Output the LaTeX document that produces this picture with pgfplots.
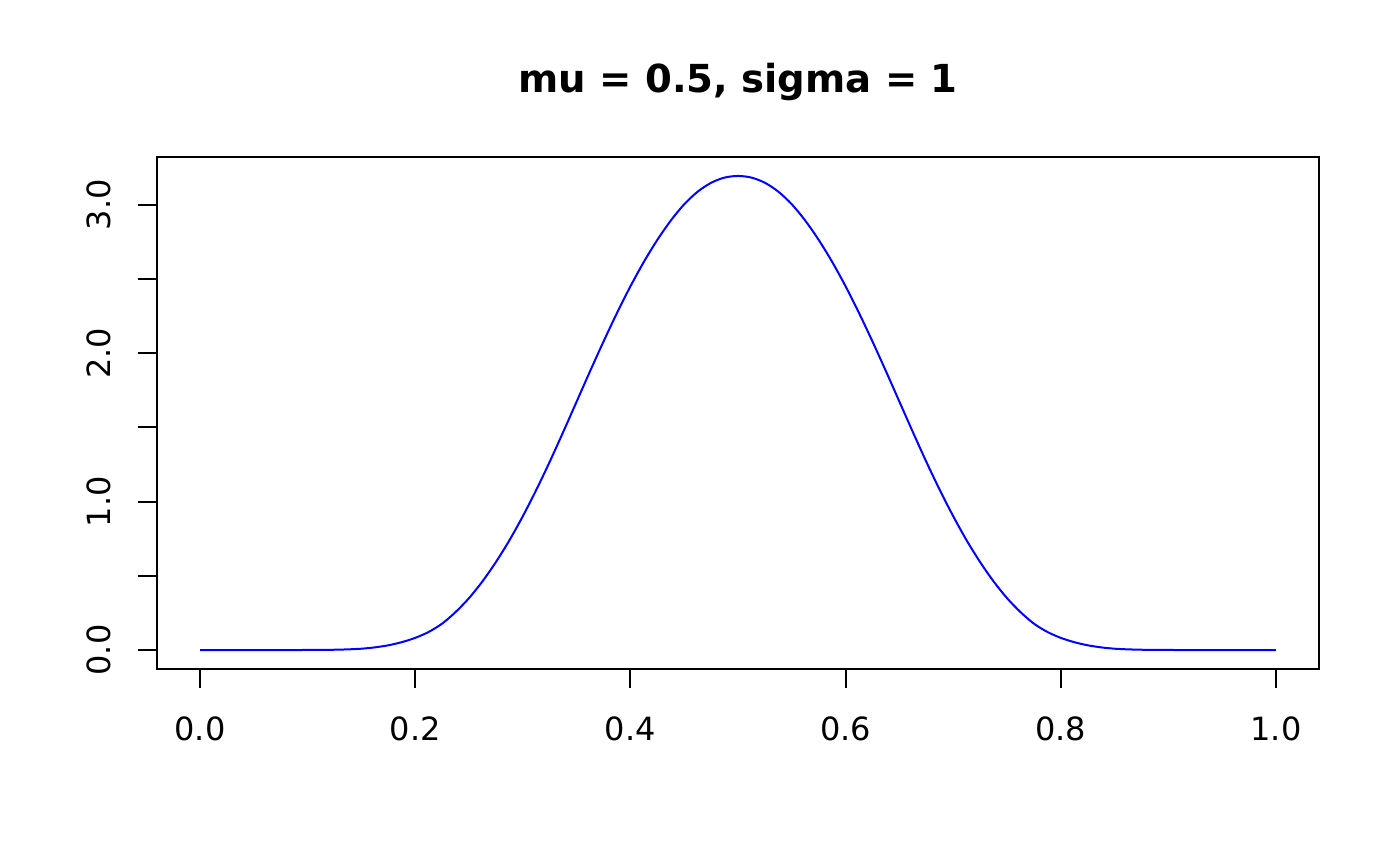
\documentclass[border=0pt]{standalone}
\usepackage{pgfplots}
\pgfplotsset{compat=1.18}
\usepackage{fontspec}
\setmainfont{DejaVu Sans}
\begin{document}
\begin{tikzpicture}
\path[use as bounding box] (0,0) rectangle (700pt,433pt);
\begin{axis}[
  scale only axis,
  at={(78.5pt,98.5pt)}, anchor=south west,
  width=581pt, height=256pt,
  xmin=-0.04, xmax=1.04,
  ymin=-0.1278, ymax=3.3228,
  axis line style={line width=1pt},
  tick style={line width=1pt, black},
  tick align=outside, tick pos=left,
  major tick length=9.75pt,
  xtick={0,0.2,0.4,0.6,0.8,1.0},
  xticklabels={0.0,0.2,0.4,0.6,0.8,1.0},
  ytick={0,0.5,1,1.5,2,2.5,3},
  yticklabels={0.0,,1.0,,2.0,,3.0},
  /pgf/number format/assume math mode=true,
  xticklabel style={font=\fontsize{16}{19}\selectfont, anchor=north, inner sep=0pt},
  yticklabel style={font=\fontsize{16}{19}\selectfont, rotate=90, anchor=south, inner sep=0pt},
  xticklabel shift=13.75pt,
  yticklabel shift=12.85pt,
  title={mu = 0.5, sigma = 1},
  title style={font=\fontsize{19.3}{23}\selectfont\bfseries, at={(0.5,1)}, anchor=base, yshift=26pt},
  clip=false,
]
\addplot[blue, line width=1pt, smooth] table {
x y
0.000 0
0.050 0
0.100 0.0003
0.1125 0.0008
0.125 0.002
0.1375 0.0045
0.150 0.009
0.1625 0.018
0.175 0.032
0.1875 0.053
0.200 0.082
0.2125 0.122
0.225 0.178
0.2375 0.256
0.250 0.350
0.2625 0.463
0.275 0.593
0.2875 0.739
0.300 0.902
0.3125 1.079
0.325 1.269
0.3375 1.469
0.350 1.674
0.3625 1.879
0.375 2.079
0.3875 2.271
0.400 2.451
0.4125 2.616
0.425 2.764
0.4375 2.894
0.450 3.004
0.4625 3.089
0.475 3.149
0.4875 3.184
0.500 3.195
0.5125 3.184
0.525 3.149
0.5375 3.089
0.550 3.004
0.5625 2.894
0.575 2.764
0.5875 2.616
0.600 2.451
0.6125 2.271
0.625 2.079
0.6375 1.879
0.650 1.674
0.6625 1.469
0.675 1.269
0.6875 1.079
0.700 0.902
0.7125 0.739
0.725 0.593
0.7375 0.463
0.750 0.350
0.7625 0.256
0.775 0.178
0.7875 0.122
0.800 0.082
0.8125 0.053
0.825 0.032
0.8375 0.018
0.850 0.009
0.8625 0.0045
0.875 0.002
0.8875 0.0008
0.900 0.0003
0.950 0
1.000 0
};
\end{axis}
\end{tikzpicture}
\end{document}
